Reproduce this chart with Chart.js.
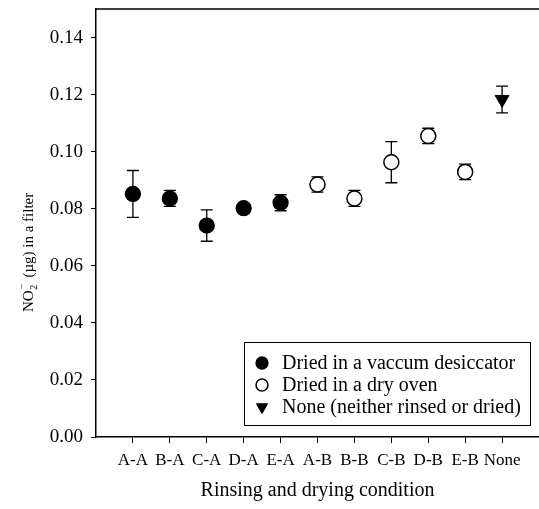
<!DOCTYPE html>
<html>
<head>
<meta charset="utf-8">
<script src="https://cdn.jsdelivr.net/npm/chart.js@4.4.1/dist/chart.umd.min.js"></script>
<style>
  html, body { margin: 0; padding: 0; background: #fff; }
  #wrap { width: 539px; height: 509px; }
</style>
</head>
<body>
<div id="wrap"><canvas id="chart"></canvas></div>
<script>
// conditions along the x axis
const categories = ['A-A', 'B-A', 'C-A', 'D-A', 'E-A', 'A-B', 'B-B', 'C-B', 'D-B', 'E-B', 'None'];

// dried in a vacuum desiccator (A-A .. E-A)
const vacuumMean = [0.0852, 0.0836, 0.0741, 0.0802, 0.0821];
const vacuumErr = [0.0082, 0.0028, 0.0055, 0.0010, 0.0028];

// dried in a dry oven (A-B .. E-B)
const ovenMean = [0.0885, 0.0836, 0.0963, 0.1055, 0.0929];
const ovenErr = [0.0027, 0.0028, 0.0072, 0.0027, 0.0027];

// neither rinsed or dried
const noneMean = [0.1183];
const noneErr = [0.0047];

const yTicks = [0, 0.02, 0.04, 0.06, 0.08, 0.10, 0.12, 0.14];

const SERIF = '"Liberation Serif", "DejaVu Serif", serif';

function points(means, offset) {
    return means.map((v, i) => ({ x: offset + i + 1, y: v }));
}

// error bars, drawn under the markers
const errorBars = {
    id: 'errorBars',
    beforeDatasetsDraw(chart) {
        const ctx = chart.ctx;
        const xs = chart.scales.x, ys = chart.scales.y;
        ctx.save();
        ctx.strokeStyle = '#000';
        ctx.lineWidth = 1.3;
        chart.data.datasets.forEach(ds => {
            ds.data.forEach((p, i) => {
                const e = ds.errors[i];
                const px = xs.getPixelForValue(p.x);
                const top = ys.getPixelForValue(p.y + e);
                const bot = ys.getPixelForValue(p.y - e);
                ctx.beginPath();
                ctx.moveTo(px, top); ctx.lineTo(px, bot);
                ctx.moveTo(px - 6, top); ctx.lineTo(px + 6, top);
                ctx.moveTo(px - 6, bot); ctx.lineTo(px + 6, bot);
                ctx.stroke();
            });
        });
        ctx.restore();
    }
};

// y title with NO2- written as sub/superscript
const yTitle = {
    id: 'yTitle',
    afterDraw(chart) {
        const ctx = chart.ctx;
        ctx.save();
        ctx.translate(33, 312);
        ctx.rotate(-Math.PI / 2);
        ctx.fillStyle = '#000';
        ctx.textBaseline = 'alphabetic';
        ctx.font = '15px ' + SERIF;
        let x = 0;
        ctx.fillText('NO', x, 0);
        x += ctx.measureText('NO').width;
        ctx.font = '10px ' + SERIF;
        ctx.fillText('2', x + 0.5, 4);
        ctx.fillText('\u2212', x + 1, -8);
        x += 9;
        ctx.font = '15px ' + SERIF;
        ctx.fillText(' (\u00B5g) in a filter', x, 0);
        ctx.restore();
    }
};

// top frame line and boxed legend inside the plot
const frameAndLegend = {
    id: 'frameAndLegend',
    afterDraw(chart) {
        const ctx = chart.ctx;
        const a = chart.chartArea;
        ctx.save();
        ctx.strokeStyle = '#000';
        ctx.lineWidth = 1.5;
        ctx.beginPath();
        ctx.moveTo(a.left, a.top); ctx.lineTo(a.right, a.top);
        ctx.stroke();

        const bx = 244, by = 342, bw = 286, bh = 83;
        ctx.lineWidth = 1;
        ctx.strokeRect(bx + 0.5, by + 0.5, bw, bh);
        ctx.font = '20px ' + SERIF;
        ctx.textBaseline = 'middle';
        chart.data.datasets.forEach((ds, i) => {
            const y = by + 21 + i * 22;
            ctx.fillStyle = ds.backgroundColor;
            ctx.strokeStyle = '#000';
            ctx.lineWidth = ds.borderWidth;
            Chart.helpers.drawPoint(ctx, {
                pointStyle: ds.pointStyle,
                radius: ds.pointRadius - 1.5,
                rotation: ds.rotation || 0,
                borderWidth: ds.borderWidth
            }, bx + 18, y);
            ctx.fillStyle = '#000';
            ctx.fillText(ds.label, bx + 38, y + 1);
        });
        ctx.restore();
    }
};

new Chart(document.getElementById('chart'), {
    type: 'scatter',
    data: {
        datasets: [
            {
                label: 'Dried in a vaccum desiccator',
                data: points(vacuumMean, 0),
                errors: vacuumErr,
                pointStyle: 'circle',
                pointRadius: 7.5,
                backgroundColor: '#000',
                borderColor: '#000',
                borderWidth: 1.3
            },
            {
                label: 'Dried in a dry oven',
                data: points(ovenMean, 5),
                errors: ovenErr,
                pointStyle: 'circle',
                pointRadius: 7.5,
                backgroundColor: '#fff',
                borderColor: '#000',
                borderWidth: 1.5
            },
            {
                label: 'None (neither rinsed or dried)',
                data: points(noneMean, 10),
                errors: noneErr,
                pointStyle: 'triangle',
                rotation: 180,
                pointRotation: 180,
                pointRadius: 8,
                backgroundColor: '#000',
                borderColor: '#000',
                borderWidth: 1
            }
        ]
    },
    options: {
        responsive: true,
        maintainAspectRatio: false,
        animation: false,
        layout: { autoPadding: false, padding: { top: 9, right: 0, left: 0, bottom: 0 } },
        plugins: {
            legend: { display: false },
            tooltip: { enabled: false }
        },
        scales: {
            x: {
                type: 'linear',
                min: 0,
                max: 12,
                afterFit: (s) => { s.height = 72; s.paddingLeft = 0; s.paddingRight = 0; },
                afterBuildTicks: (s) => {
                    s.ticks = categories.map((c, i) => ({ value: i + 1 }));
                },
                ticks: {
                    autoSkip: false,
                    maxRotation: 0,
                    padding: 7,
                    color: '#000',
                    font: { family: SERIF, size: 17 },
                    callback: (v) => categories[v - 1]
                },
                grid: { drawOnChartArea: false, color: '#000', tickLength: 6 },
                border: { color: '#000', width: 1.5 },
                title: {
                    display: true,
                    text: 'Rinsing and drying condition',
                    color: '#000',
                    font: { family: SERIF, size: 20 },
                    padding: { top: 0, bottom: 6 }
                }
            },
            y: {
                min: 0,
                max: 0.15,
                afterFit: (s) => { s.width = 96; s.paddingTop = 0; s.paddingBottom = 0; },
                afterBuildTicks: (s) => {
                    s.ticks = yTicks.map(v => ({ value: v }));
                },
                ticks: {
                    padding: 8,
                    color: '#000',
                    font: { family: SERIF, size: 19 },
                    callback: (v) => v.toFixed(2)
                },
                grid: { drawOnChartArea: false, color: '#000', tickLength: 5 },
                border: { color: '#000', width: 1.5 }
            }
        }
    },
    plugins: [errorBars, yTitle, frameAndLegend]
});
</script>
</body>
</html>
